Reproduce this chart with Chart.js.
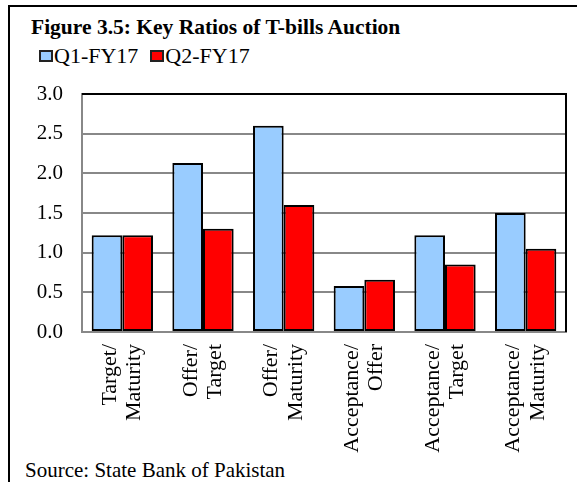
<!DOCTYPE html>
<html><head><meta charset="utf-8">
<script src="https://cdn.jsdelivr.net/npm/chart.js@4"></script>
<style>
html,body{margin:0;padding:0;background:#fff;}
body{width:577px;height:482px;overflow:hidden;position:relative;font-family:"Liberation Serif","Times New Roman",serif;color:#000;}
#frame{position:absolute;left:8px;top:5px;width:600px;height:520px;border-left:2px solid #000;border-top:2px solid #000;}
#title{position:absolute;left:31px;top:15px;font-weight:bold;font-size:21.5px;line-height:24px;white-space:nowrap;}
#legend{position:absolute;left:39px;top:45px;font-size:22px;line-height:22px;white-space:nowrap;display:flex;}
#legend .item{display:flex;align-items:center;margin-right:12px;}
#legend .box{width:14px;height:12px;box-sizing:border-box;border:2px solid #222;margin-right:1px;}
#source{position:absolute;left:25px;top:458px;font-size:21px;line-height:24px;white-space:nowrap;}
canvas{position:absolute;left:0;top:0;}
</style></head>
<body>
<div id="frame"></div>
<div id="title">Figure 3.5: Key Ratios of T-bills Auction</div>
<div id="legend"></div>
<div id="source">Source: State Bank of Pakistan</div>
<canvas id="c" width="577" height="482"></canvas>
<script>
const categories = [
  ['Target/','Maturity'],
  ['Offer/','Target'],
  ['Offer/','Maturity'],
  ['Acceptance/','Offer'],
  ['Acceptance/','Target'],
  ['Acceptance/','Maturity']
];
const seriesNames = ['Q1-FY17','Q2-FY17'];
const q1Values = [1.22, 2.13, 2.60, 0.58, 1.22, 1.50];
const q2Values = [1.22, 1.30, 1.60, 0.66, 0.85, 1.05];
const yTicks = [0, 0.5, 1.0, 1.5, 2.0, 2.5, 3.0];
const colors = ['#99CCFF', '#FF0000'];

const FONT = '"Liberation Serif","Times New Roman",serif';

const leg = document.getElementById('legend');
seriesNames.forEach((n,i)=>{
  const it = document.createElement('div'); it.className='item';
  const b = document.createElement('div'); b.className='box'; b.style.background=colors[i];
  const t = document.createElement('span'); t.textContent = n;
  it.appendChild(b); it.appendChild(t); leg.appendChild(it);
});

const frameLines = {
  id:'frameLines',
  afterDraw(chart){
    const {ctx, chartArea:a} = chart;
    ctx.save();
    ctx.strokeStyle='#000'; ctx.lineWidth=2;
    ctx.beginPath();
    ctx.moveTo(a.left, a.top); ctx.lineTo(a.right, a.top); ctx.lineTo(a.right, a.bottom);
    ctx.stroke();
    ctx.restore();
  }
};

new Chart(document.getElementById('c'), {
  type:'bar',
  data:{
    labels: categories,
    datasets:[
      {label:seriesNames[0], data:q1Values, backgroundColor:colors[0], borderColor:'#000', borderWidth:2, borderSkipped:false},
      {label:seriesNames[1], data:q2Values, backgroundColor:colors[1], borderColor:'#000', borderWidth:2, borderSkipped:false}
    ]
  },
  options:{
    responsive:false,
    animation:false,
    devicePixelRatio:1,
    layout:{padding:{top:94, right:11, left:0, bottom:0}},
    datasets:{bar:{categoryPercentage:0.76, barPercentage:1.0}},
    plugins:{legend:{display:false}, title:{display:false}, tooltip:{enabled:false}},
    scales:{
      x:{
        grid:{display:false, drawTicks:false},
        border:{display:true, color:'#888', width:2},
        ticks:{color:'#000', font:{family:FONT, size:22, lineHeight:1.1}, minRotation:90, maxRotation:90, padding:12, autoSkip:false, labelOffset:-12},
        afterFit(s){ s.height = 150; s.paddingLeft = 0; s.paddingRight = 0; }
      },
      y:{
        min:0, max:3,
        afterBuildTicks(s){ s.ticks = yTicks.map(v=>({value:v})); },
        grid:{color:(c)=> c.tick && c.tick.value===3 ? '#000' : '#888', lineWidth:2, drawTicks:false},
        border:{display:true, color:'#888', width:2},
        ticks:{color:'#000', font:{family:FONT, size:21}, padding:19, callback:(v)=>Number(v).toFixed(1)},
        afterFit(s){ s.width = 82; s.paddingTop = 0; s.paddingBottom = 0; }
      }
    }
  },
  plugins:[frameLines]
});
</script>
</body></html>
